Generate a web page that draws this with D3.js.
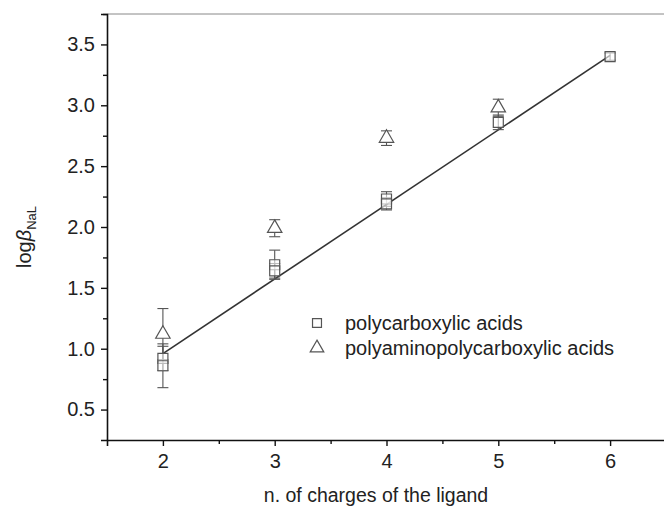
<!DOCTYPE html>
<html><head><meta charset="utf-8">
<script src="https://cdn.jsdelivr.net/npm/d3@7"></script>
<style>body{margin:0;background:#fff}svg{display:block}text{font-family:"Liberation Sans",Arial,sans-serif;fill:#222}</style>
</head><body>
<script>
// data
const carbX = [2, 2, 3, 3, 4, 4, 5, 6];
const carbY = [0.92, 0.86, 1.69, 1.64, 2.23, 2.19, 2.86, 3.40];
const carbErr = [0.10, 0.18, 0.12, 0.06, 0.06, 0.05, 0.06, 0.03];
const aminoX = [2, 3, 4, 5];
const aminoY = [1.12, 1.99, 2.73, 2.98];
const aminoErr = [0.21, 0.07, 0.06, 0.07];
const fitX = [2, 6];
const fitSlope = 0.6125, fitIntercept = -0.265;
const xTicks = [2, 3, 4, 5, 6];
const yTicks = [0.5, 1.0, 1.5, 2.0, 2.5, 3.0, 3.5];
const legendLabels = ["polycarboxylic acids", "polyaminopolycarboxylic acids"];

const W = 664, H = 509;
const svg = d3.select("body").append("svg").attr("width", W).attr("height", H);
const x = d3.scaleLinear().domain([1.5, 6.5]).range([107, 666]);
const y = d3.scaleLinear().domain([0.25, 3.75]).range([440, 14]);

// top border
svg.append("line").attr("x1", x(1.5)).attr("x2", W).attr("y1", y(3.75)).attr("y2", y(3.75))
  .attr("stroke", "#888").attr("stroke-width", 1);

// axes
svg.append("g").attr("transform", `translate(0,${y(0.25)})`)
  .call(d3.axisBottom(x).tickValues(xTicks).tickSize(6).tickPadding(8).tickFormat(d3.format("d")));
svg.append("g").attr("transform", `translate(0,${y(0.25)})`)
  .call(d3.axisBottom(x).tickValues([2.5,3.5,4.5,5.5]).tickSize(4).tickFormat(""))
  .select(".domain").remove();
svg.append("g").attr("transform", `translate(${x(1.5)},0)`)
  .call(d3.axisLeft(y).tickValues(yTicks).tickSize(6).tickPadding(6).tickFormat(d3.format(".1f")));
svg.append("g").attr("transform", `translate(${x(1.5)},0)`)
  .call(d3.axisLeft(y).tickValues([0.75,1.25,1.75,2.25,2.75,3.25,3.75]).tickSize(4).tickFormat(""))
  .select(".domain").remove();
svg.selectAll(".domain").attr("stroke", "#111").attr("stroke-width", 1.6);
svg.selectAll(".tick line").attr("stroke", "#111").attr("stroke-width", 1.4);
svg.selectAll(".tick text").style("font-size", "20px").style("fill", "#222")
  .style("font-family", '"Liberation Sans",Arial,sans-serif');

// axis titles
svg.append("text").attr("x", 376).attr("y", 502).attr("text-anchor", "middle")
  .style("font-size", "19.5px").text("n. of charges of the ligand");
const yt = svg.append("text").attr("transform", "translate(31,237) rotate(-90)")
  .attr("text-anchor", "middle").style("font-size", "20px");
yt.append("tspan").text("log");
yt.append("tspan").style("font-style", "italic").text("β");
yt.append("tspan").attr("dy", 5).style("font-size", "13px").text("NaL");

// fit line
svg.append("line")
  .attr("x1", x(fitX[0])).attr("y1", y(fitIntercept + fitSlope * fitX[0]))
  .attr("x2", x(fitX[1])).attr("y2", y(fitIntercept + fitSlope * fitX[1]))
  .attr("stroke", "#333").attr("stroke-width", 1.6);

const mc = "#555";
function errBars(xs, ys, es) {
  const g = svg.append("g").attr("stroke", mc).attr("stroke-width", 1.1);
  xs.forEach((xv, i) => {
    const cx = x(xv), t = y(ys[i] + es[i]), b = y(ys[i] - es[i]);
    g.append("line").attr("x1", cx).attr("x2", cx).attr("y1", t).attr("y2", b);
    g.append("line").attr("x1", cx - 5.5).attr("x2", cx + 5.5).attr("y1", t).attr("y2", t);
    g.append("line").attr("x1", cx - 5.5).attr("x2", cx + 5.5).attr("y1", b).attr("y2", b);
  });
}
errBars(carbX, carbY, carbErr);
errBars(aminoX, aminoY, aminoErr);

const sq = d3.symbol().type(d3.symbolSquare).size(100);
const tri = d3.symbol().type(d3.symbolTriangle).size(90);
svg.append("g").selectAll("path").data(carbX).join("path")
  .attr("d", sq).attr("transform", (d, i) => `translate(${x(d)},${y(carbY[i])})`)
  .attr("fill", "#fff").attr("fill-opacity", 0.6).attr("stroke", mc).attr("stroke-width", 1.2);
svg.append("g").selectAll("path").data(aminoX).join("path")
  .attr("d", tri).attr("transform", (d, i) => `translate(${x(d)},${y(aminoY[i])})`)
  .attr("fill", "#fff").attr("stroke", mc).attr("stroke-width", 1.2);

// legend
const lg = svg.append("g");
const syms = [d3.symbol().type(d3.symbolSquare).size(80), d3.symbol().type(d3.symbolTriangle).size(80)];
legendLabels.forEach((l, i) => {
  const ly = 323 + i * 25;
  lg.append("path").attr("d", syms[i]).attr("transform", `translate(317,${ly})`)
    .attr("fill", "#fff").attr("stroke", mc).attr("stroke-width", 1.2);
  lg.append("text").attr("x", 345).attr("y", ly + 7).style("font-size", "20px").text(l);
});
</script>
</body></html>
